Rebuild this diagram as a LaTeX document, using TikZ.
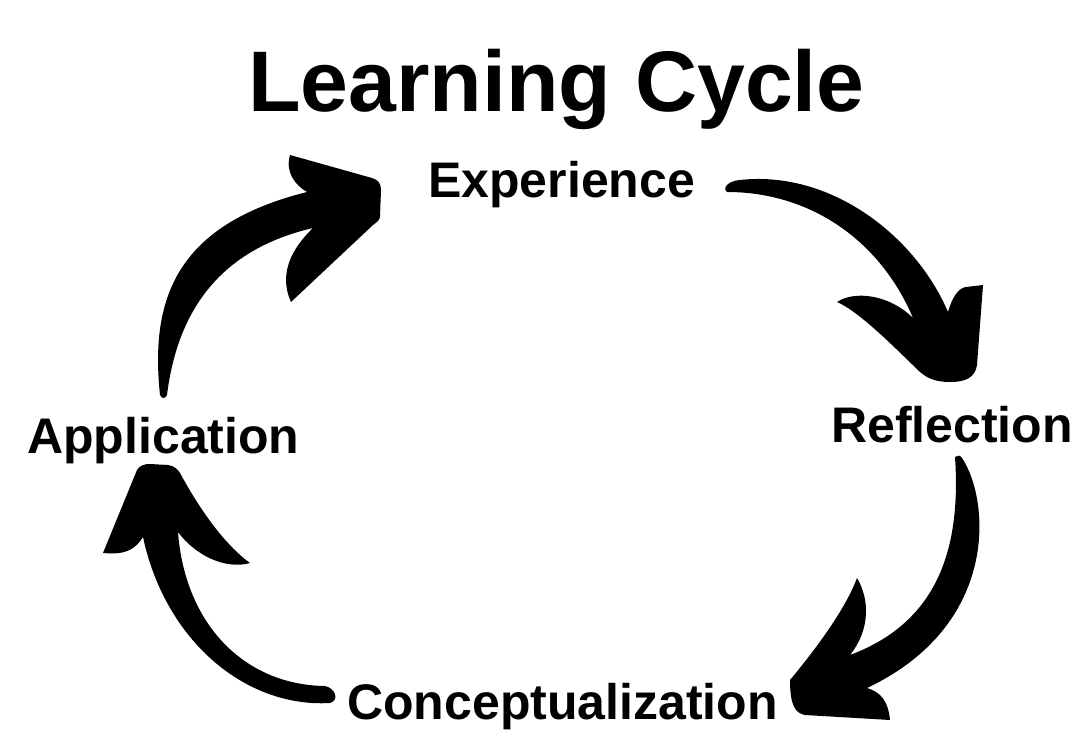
\documentclass[tikz,border=0pt]{standalone}
\usepackage{fontspec}
\setmainfont{Liberation Sans}
\tikzset{
  heading/.style={font=\fontsize{86}{90}\selectfont\bfseries,inner sep=0pt,anchor=base west},
  stage/.style={font=\fontsize{50}{55}\selectfont\bfseries,inner sep=0pt,anchor=base west},
  brush/.style={fill=black},
}
\begin{document}
\begin{tikzpicture}[x=1pt,y=-1pt]
  \useasboundingbox (0,0) rectangle (1092,746);

  \node[heading] (title) at (248,112) {Learning Cycle};

  \node[stage] (exp)     at (428,198) {Experience};
  \node[stage] (refl)    at (831,442) {Reflection};
  \node[stage] (concept) at (347,719) {Conceptualization};
  \node[stage] (appl)    at (27,453)  {Application};

  % application -> experience
  \fill[brush] (160,395) .. controls (150,300) and (175,225) .. (307,192)
    .. controls (295,185) and (285,172) .. (290,155)
    -- (372,178) .. controls (378,180) and (381,183) .. (381,190)
    -- (380,216) .. controls (380,220) and (377,222) .. (373,225)
    -- (291,302) .. controls (281,280) and (285,255) .. (313,228)
    .. controls (240,245) and (180,290) .. (167,395)
    .. controls (165,399) and (162,399) .. cycle;

  % experience -> reflection
  \fill[brush] (740,180) .. controls (830,170) and (915,235) .. (948,312)
    .. controls (952,298) and (958,288) .. (966,287) -- (983,285)
    -- (977,365) .. controls (975,378) and (965,382) .. (950,382)
    .. controls (935,382) and (927,378) .. (920,372)
    .. controls (895,348) and (860,312) .. (837,302)
    .. controls (855,290) and (890,295) .. (913,318)
    .. controls (880,240) and (810,192) .. (727,192)
    .. controls (722,188) and (728,181) .. cycle;

  % reflection -> conceptualization
  \fill[brush] (962,458) .. controls (990,500) and (1000,625) .. (867,688)
    .. controls (880,692) and (888,700) .. (890,720)
    -- (805,715) .. controls (795,713) and (790,705) .. (790,680)
    .. controls (815,650) and (845,610) .. (857,578)
    .. controls (870,600) and (870,630) .. (850,655)
    .. controls (930,625) and (962,560) .. (955,457)
    .. controls (957,455) and (960,455) .. cycle;

  % conceptualization -> application
  \fill[brush] (330,703) .. controls (245,708) and (165,640) .. (143,537)
    .. controls (135,550) and (125,555) .. (103,553)
    -- (137,470) .. controls (140,465) and (145,464) .. (150,464)
    -- (168,465) .. controls (175,466) and (178,470) .. (180,473)
    .. controls (200,510) and (225,545) .. (250,563)
    .. controls (225,570) and (195,555) .. (178,532)
    .. controls (185,625) and (245,685) .. (325,686)
    .. controls (335,688) and (340,700) .. cycle;
\end{tikzpicture}
\end{document}
